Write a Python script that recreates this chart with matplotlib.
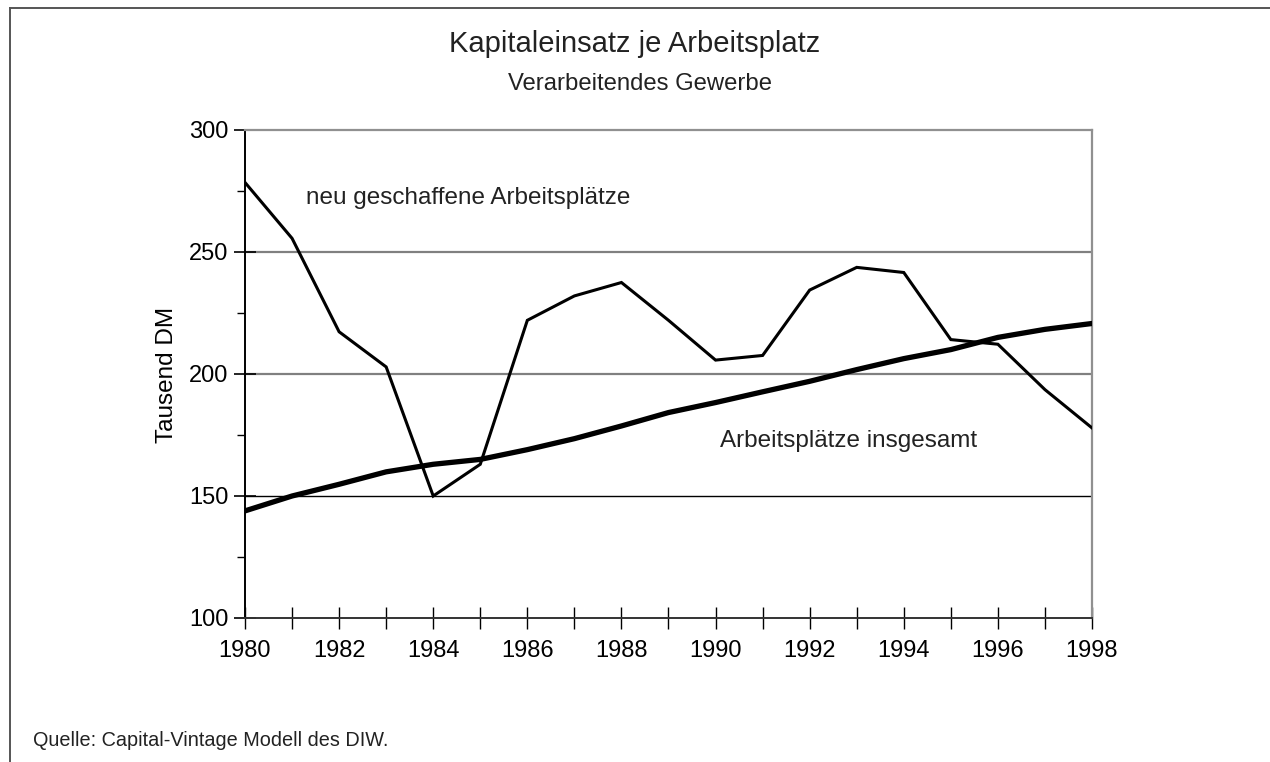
import matplotlib
matplotlib.use("Agg")
import matplotlib.pyplot as plt
from matplotlib.lines import Line2D
from matplotlib.ticker import MultipleLocator

plt.rcParams['font.family'] = ['Liberation Sans', 'DejaVu Sans']

years = list(range(1980, 1999))
neu_geschaffen = [278.5, 255.6, 217.3, 202.9, 150.0, 163.0, 222.0, 232.0, 237.5, 222.0,
                  205.7, 207.6, 234.4, 243.7, 241.6, 214.1, 212.2, 193.6, 177.9]
insgesamt = [143.9, 150.0, 154.8, 159.9, 163.0, 165.0, 169.0, 173.5, 178.7, 184.2,
             188.3, 192.7, 197.0, 201.8, 206.3, 210.0, 215.0, 218.3, 220.7]
y_ticks = [100, 150, 200, 250, 300]

title = "Kapitaleinsatz je Arbeitsplatz"
subtitle = "Verarbeitendes Gewerbe"
ylabel = "Tausend DM"
label_neu = "neu geschaffene Arbeitsplätze"
label_ges = "Arbeitsplätze insgesamt"
source = "Quelle: Capital-Vintage Modell des DIW."

W, H = 1270, 762
fig = plt.figure(figsize=(W / 100, H / 100), dpi=100)
ax = fig.add_axes([245 / W, 1 - 618 / H, (1092 - 245) / W, (618 - 130) / H])

text_color = "#222222"

# gridlines
ax.axhline(250, color="#808080", lw=1.6, zorder=1)
ax.axhline(200, color="#808080", lw=1.6, zorder=1)
ax.axhline(150, color="black", lw=1.0, zorder=1)

ax.plot(years, neu_geschaffen, color="black", lw=2.2, zorder=3, solid_joinstyle="miter")
ax.plot(years, insgesamt, color="black", lw=3.8, zorder=3)

ax.set_xlim(1980, 1998)
ax.set_ylim(100, 300)
ax.set_yticks(y_ticks)
ax.yaxis.set_minor_locator(MultipleLocator(25))
ax.set_xticks(years)
ax.set_xticklabels([str(y) if (y - 1980) % 2 == 0 else "" for y in years])

ax.tick_params(axis="y", which="major", direction="inout", length=16, width=1.2,
               labelsize=17, pad=4, labelcolor="black")
ax.tick_params(axis="y", which="minor", direction="out", length=6, width=1.0)
ax.tick_params(axis="x", which="major", direction="inout", length=16, width=1.0,
               labelsize=17, pad=8, labelcolor="black")

for s in ["top", "right"]:
    ax.spines[s].set_color("#909090")
    ax.spines[s].set_linewidth(1.6)
ax.spines["left"].set_color("black")
ax.spines["left"].set_linewidth(1.4)
ax.spines["bottom"].set_color("#333333")
ax.spines["bottom"].set_linewidth(1.4)

ax.set_ylabel(ylabel, fontsize=17.5, color="black")
ax.yaxis.set_label_coords(-0.0791, 0.498)

ax.text(1981.3, 272.1, label_neu, fontsize=17.5, color=text_color, va="center", ha="left")
ax.text(1990.1, 172.4, label_ges, fontsize=17.5, color=text_color, va="center", ha="left")

fig.text(635 / W, 1 - 44 / H, title, fontsize=21, color=text_color, ha="center", va="center")
fig.text(640 / W, 1 - 84 / H, subtitle, fontsize=17.2, color=text_color, ha="center", va="center")
fig.text(33 / W, 1 - 740 / H, source, fontsize=14.3, color=text_color, ha="left", va="center")

# outer frame (top and left visible)
fig.add_artist(Line2D([10 / W, 10 / W], [0, 1 - 8 / H], transform=fig.transFigure,
                      color="#555555", lw=1.4))
fig.add_artist(Line2D([10 / W, 1], [1 - 8 / H, 1 - 8 / H], transform=fig.transFigure,
                      color="#555555", lw=1.4))

fig.savefig("out.png", dpi=100, facecolor="white")
